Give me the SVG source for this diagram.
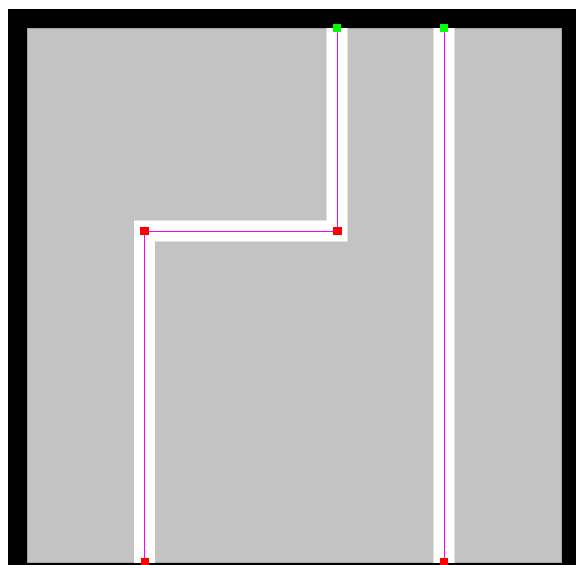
<svg xmlns="http://www.w3.org/2000/svg" width="576" height="565" viewBox="0 0 576 565">
<style>
.road{fill:none;stroke:#ffffff;stroke-width:21;stroke-linejoin:miter;stroke-linecap:butt}
.cl{fill:none;stroke:#ff00ff;stroke-width:1}
.start{fill:#00ff00}
.pt{fill:#ff0000}
</style>
<defs><clipPath id="c"><rect x="27" y="28" width="535" height="535"/></clipPath></defs>
<rect x="8" y="9" width="568" height="556" fill="#000000"/>
<rect x="27.5" y="28.5" width="534" height="534" fill="#c3c3c3" stroke="#a6a6a6" stroke-width="1"/>
<g id="connectors" clip-path="url(#c)">
<path class="road" d="M337 28 V231 H144.5 V563"/>
<path class="road" d="M444 28 V563"/>
<path class="cl" d="M337.5 28 V231.5 H144.5 V563"/>
<path class="cl" d="M444.5 28 V563"/>
</g>
<g id="n1"><rect class="start" x="333" y="24" width="8" height="8"/></g>
<g id="n2"><rect class="start" x="440" y="24" width="8" height="8"/></g>
<g id="n3"><rect class="pt" x="333" y="227" width="9" height="8"/></g>
<g id="n4"><rect class="pt" x="140" y="227" width="9" height="8"/></g>
<g id="n5"><rect class="pt" x="141" y="558" width="8" height="8"/></g>
<g id="n6"><rect class="pt" x="440" y="558" width="8" height="8"/></g>
</svg>
